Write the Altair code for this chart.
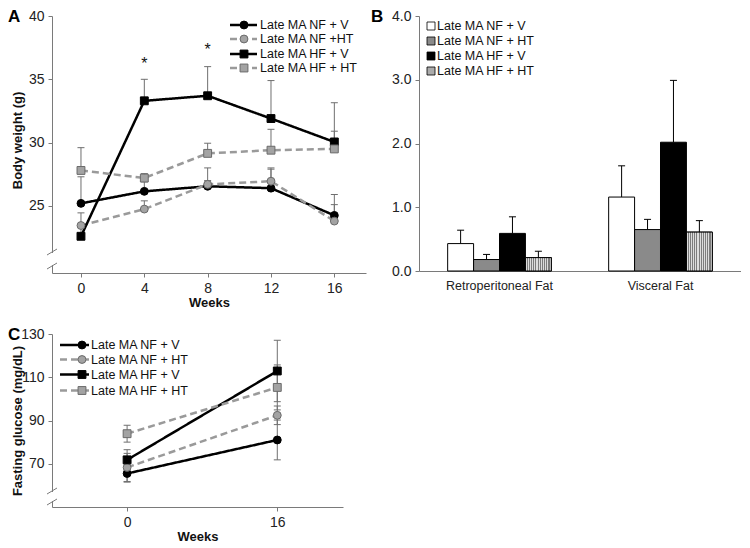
import altair as alt
import pandas as pd

FONT = "Liberation Sans"

# ---------------- data ----------------
series_keys = ["NF+V", "NF+HT", "HF+V", "HF+HT"]

# Panel A: body weight (g)
weeks = [0, 4, 8, 12, 16]
bw_labels = ["Late MA NF + V", "Late MA NF +HT", "Late MA HF + V", "Late MA HF + HT"]
bw_nf_v = [25.2, 26.15, 26.55, 26.4, 24.25]
bw_nf_v_err = [27.3, 26.9, 27.0, 27.9, 25.9]
bw_nf_ht = [23.45, 24.75, 26.7, 26.95, 23.8]
bw_nf_ht_err = [24.45, 25.4, 28.0, 28.0, 25.1]
bw_hf_v = [22.6, 33.3, 33.7, 31.9, 30.05]
bw_hf_v_err = [23.3, 35.0, 36.0, 34.9, 33.15]
bw_hf_ht = [27.8, 27.2, 29.15, 29.4, 29.5]
bw_hf_ht_err = [29.6, 27.55, 29.95, 31.05, 30.9]
star_weeks = [4, 8]
star_y = [36.2, 37.3]

# Panel B: fat pad mass
fat_categories = ["Retroperitoneal Fat", "Visceral Fat"]
fat_labels = ["Late MA NF + V", "Late MA NF + HT", "Late MA HF + V", "Late MA HF + HT"]
fat_nf_v = [0.43, 1.16]
fat_nf_v_err = [0.64, 1.65]
fat_nf_ht = [0.18, 0.65]
fat_nf_ht_err = [0.26, 0.81]
fat_hf_v = [0.59, 2.02]
fat_hf_v_err = [0.85, 2.99]
fat_hf_ht = [0.21, 0.61]
fat_hf_ht_err = [0.31, 0.79]

# Panel C: fasting glucose (mg/dL)
glu_weeks = [0, 16]
glu_labels = ["Late MA NF + V", "Late MA NF + HT", "Late MA HF + V", "Late MA HF + HT"]
glu_nf_v = [65.5, 81.0]
glu_nf_v_sem = [4.0, 9.2]
glu_nf_ht = [68.3, 92.4]
glu_nf_ht_sem = [6.5, 4.3]
glu_hf_v = [71.8, 112.9]
glu_hf_v_sem = [4.7, 14.2]
glu_hf_ht = [83.9, 105.3]
glu_hf_ht_sem = [3.9, 10.4]

# ---------------- styles ----------------
line_colors = ["black", "#9a9a9a", "black", "#9a9a9a"]
dashes = [[1, 0], [7, 4], [1, 0], [7, 4]]
shapes = ["circle", "circle", "square", "square"]
marker_fill = ["black", "#a3a3a3", "black", "#a3a3a3"]
marker_stroke = ["black", "#6a6a6a", "black", "#6a6a6a"]
bar_fills = ["white", "#8a8a8a", "black", "#ababab"]
ERR = "#6f6f6f"
AX = "#7a7a7a"
CAP = "M-1,0L1,0"

one = pd.DataFrame({"k": [0]})

# ---------------- tables ----------------
rowsA = []
for key, vals, errs in zip(series_keys,
                           [bw_nf_v, bw_nf_ht, bw_hf_v, bw_hf_ht],
                           [bw_nf_v_err, bw_nf_ht_err, bw_hf_v_err, bw_hf_ht_err]):
    for w, v, e in zip(weeks, vals, errs):
        rowsA.append({"series": key, "week": w, "value": v, "err": e})
dfA = pd.DataFrame(rowsA)

rowsB = []
for key, vals, errs in zip(series_keys,
                           [fat_nf_v, fat_nf_ht, fat_hf_v, fat_hf_ht],
                           [fat_nf_v_err, fat_nf_ht_err, fat_hf_v_err, fat_hf_ht_err]):
    for c, v, e in zip(fat_categories, vals, errs):
        rowsB.append({"series": key, "cat": c, "value": v, "err": e})
dfB = pd.DataFrame(rowsB)

rowsC = []
for key, vals, sems in zip(series_keys,
                           [glu_nf_v, glu_nf_ht, glu_hf_v, glu_hf_ht],
                           [glu_nf_v_sem, glu_nf_ht_sem, glu_hf_v_sem, glu_hf_ht_sem]):
    for w, v, s in zip(glu_weeks, vals, sems):
        rowsC.append({"series": key, "week": w, "value": v, "lo": v - s, "hi": v + s})
dfC = pd.DataFrame(rowsC)

dfStar = pd.DataFrame({"week": star_weeks, "value": star_y})


def sc(rng):
    return alt.Scale(domain=series_keys, range=rng)


def line_panel(df, xscale, xvals, yscale, yvals, ytitle, xtitle, w, h, err_lo, err_hi,
               caps, legend_labels, leg, letter, brk, ytitleY=None, extra=None):
    yaxis_kw = dict(values=yvals, title=ytitle, titleX=-35, titleBaseline="middle")
    if ytitleY is not None:
        yaxis_kw["titleY"] = ytitleY
    yaxis = alt.Axis(**yaxis_kw)
    xaxis = alt.Axis(values=xvals, title=xtitle, labelPadding=4, titlePadding=1)
    X = alt.X("week:Q", scale=xscale, axis=xaxis)

    def Y(field):
        return alt.Y(field, scale=yscale, axis=yaxis)

    base = alt.Chart(df)
    layers = []
    layers.append(base.mark_rule(color=ERR, strokeWidth=1).encode(
        x=X, y=Y(err_lo), y2=alt.Y2(err_hi)))
    for cf in caps:
        layers.append(base.mark_point(shape=CAP, size=49, filled=False, color=ERR,
                                      strokeWidth=1, opacity=1).encode(x=X, y=Y(cf)))
    layers.append(base.mark_line(strokeWidth=2.5).encode(
        x=X, y=Y("value:Q"),
        stroke=alt.Stroke("series:N", scale=sc(line_colors), legend=None),
        strokeDash=alt.StrokeDash("series:N", scale=sc(dashes), legend=None)))
    layers.append(base.mark_point(filled=True, size=62, strokeWidth=1, opacity=1).encode(
        x=X, y=Y("value:Q"),
        shape=alt.Shape("series:N", scale=sc(shapes), legend=None),
        fill=alt.Fill("series:N", scale=sc(marker_fill), legend=None),
        stroke=alt.Stroke("series:N", scale=sc(marker_stroke), legend=None)))
    if extra is not None:
        layers.append(extra(X, Y))
    # manual legend
    lx0, lx1, mx, tx, rows = leg
    for i, lab in enumerate(legend_labels):
        yy = rows[i]
        layers.append(alt.Chart(one).mark_rule(color=line_colors[i], strokeWidth=2.5,
                                               strokeDash=dashes[i]).encode(
            x=alt.value(lx0), x2=alt.value(lx1), y=alt.value(yy)))
        layers.append(alt.Chart(one).mark_point(shape=shapes[i], filled=True, size=62,
                                                fill=marker_fill[i], stroke=marker_stroke[i],
                                                strokeWidth=1, opacity=1).encode(
            x=alt.value(mx), y=alt.value(yy)))
        layers.append(alt.Chart(one).mark_text(text=lab, align="left", baseline="middle",
                                               fontSize=12.5, font=FONT, color="#111").encode(
            x=alt.value(tx), y=alt.value(yy)))
    # panel letter
    layers.append(alt.Chart(one).mark_text(text=letter, align="left", baseline="middle",
                                           fontSize=17, fontWeight="bold", font=FONT,
                                           color="black").encode(
        x=alt.value(-44), y=alt.value(1)))
    # axis break
    b0, b1 = brk
    layers.append(alt.Chart(one).mark_rule(color="white", strokeWidth=4).encode(
        x=alt.value(0), y=alt.value(b0 + 1), y2=alt.value(b1 - 1)))
    for bb in (b0, b1):
        layers.append(alt.Chart(one).mark_rule(color=AX, strokeWidth=1).encode(
            x=alt.value(-5), x2=alt.value(5), y=alt.value(bb + 3), y2=alt.value(bb - 3)))
    return alt.layer(*layers).resolve_scale(stroke="independent").properties(
        width=w, height=h)


def stars(X, Y):
    return alt.Chart(dfStar).mark_text(text="*", fontSize=16, font=FONT, color="#111",
                                       baseline="middle").encode(x=X, y=Y("value:Q"))


panelA = line_panel(
    dfA,
    alt.Scale(domain=[-1.83, 18], nice=False, zero=False), weeks,
    alt.Scale(domain=[19.7, 40], nice=False, zero=False), [25, 30, 35, 40],
    "Body weight (g)", "Weeks", 314, 257, "value:Q", "err:Q", ["err:Q"],
    bw_labels, (178, 205, 192, 208, [9, 23, 38, 52]), "A", (236, 250),
    ytitleY=124, extra=stars)

panelC = line_panel(
    dfC,
    alt.Scale(domain=[-8, 23], nice=False, zero=False), glu_weeks,
    alt.Scale(domain=[50, 130], nice=False, zero=False), [70, 90, 110, 130],
    "Fasting glucose (mg/dL)", "Weeks", 291, 173, "lo:Q", "hi:Q", ["lo:Q", "hi:Q"],
    glu_labels, (8, 37, 30, 39, [11, 25.5, 40.5, 56.5]), "C", (157, 168))

# ---------------- panel B ----------------
yaxisB = alt.Axis(values=[0, 1, 2, 3, 4], format=".1f", title=None)
yscaleB = alt.Scale(domain=[0, 4], nice=False, zero=True)
XB = alt.X("cat:N", scale=alt.Scale(domain=fat_categories, paddingInner=0.356, paddingOuter=0.178),
           axis=alt.Axis(title=None, labelAngle=0, ticks=False, labelPadding=8, labelFontSize=12.5))
XO = alt.XOffset("series:N", scale=alt.Scale(domain=series_keys, paddingInner=0, paddingOuter=0))


def YB(f):
    return alt.Y(f, scale=yscaleB, axis=yaxisB)


hatch_stops = []
nstripe = 14
for i in range(nstripe):
    a = i / nstripe
    m = (i + 0.5) / nstripe
    b = (i + 1) / nstripe
    hatch_stops += [alt.GradientStop(offset=a, color="#7c7c7c"),
                    alt.GradientStop(offset=m, color="#7c7c7c"),
                    alt.GradientStop(offset=m, color="#dcdcdc"),
                    alt.GradientStop(offset=b, color="#dcdcdc")]
hatch = alt.LinearGradient(gradient="linear", stops=hatch_stops, x1=0, x2=1, y1=0, y2=0)

baseB = alt.Chart(dfB)
layersB = [
    baseB.mark_rule(color="black", strokeWidth=1).encode(x=XB, xOffset=XO, y=YB("value:Q"),
                                                        y2=alt.Y2("err:Q")),
    baseB.mark_point(shape=CAP, size=49, filled=False, color="black", strokeWidth=1,
                     opacity=1).encode(x=XB, xOffset=XO, y=YB("err:Q")),
    baseB.mark_bar(stroke="black", strokeWidth=1).encode(
        x=XB, xOffset=XO, y=YB("value:Q"),
        fill=alt.Fill("series:N", scale=sc(bar_fills), legend=None)),
    baseB.transform_filter(alt.datum.series == "HF+HT").mark_bar(
        stroke="black", strokeWidth=1, fill=hatch).encode(x=XB, xOffset=XO, y=YB("value:Q")),
]
legB_rows = [10, 25, 40, 55]
for i, lab in enumerate(fat_labels):
    yy = legB_rows[i]
    layersB.append(alt.Chart(one).mark_point(shape="square", filled=True, size=64,
                                             fill=bar_fills[i], stroke="black",
                                             strokeWidth=0.8, opacity=1).encode(
        x=alt.value(12), y=alt.value(yy)))
    layersB.append(alt.Chart(one).mark_text(text=lab, align="left", baseline="middle",
                                            fontSize=12.5, font=FONT, color="#111").encode(
        x=alt.value(18), y=alt.value(yy)))
layersB.append(alt.Chart(one).mark_text(text="B", align="left", baseline="middle",
                                        fontSize=17, fontWeight="bold", font=FONT,
                                        color="black").encode(x=alt.value(-48), y=alt.value(1)))
panelB = alt.layer(*layersB).properties(width=322, height=255)

RES = dict(fill="independent", stroke="independent", shape="independent",
           strokeDash="independent")

chart = alt.vconcat(
    alt.hconcat(panelA, panelB, spacing=5).resolve_scale(**RES),
    panelC,
    spacing=17,
).resolve_scale(**RES).properties(
    padding={"top": 0, "left": 0, "right": 0, "bottom": 0}
).configure_view(stroke=None).configure_axis(
    labelFont=FONT, titleFont=FONT, labelColor="#222", titleColor="#111",
    domainColor=AX, tickColor=AX, grid=False, labelFontSize=14, titleFontSize=13,
    titleFontWeight="bold", tickSize=4, labelPadding=4,
).configure_text(font=FONT)

chart.save("out.html", embed_options={"renderer": "svg", "actions": False})
